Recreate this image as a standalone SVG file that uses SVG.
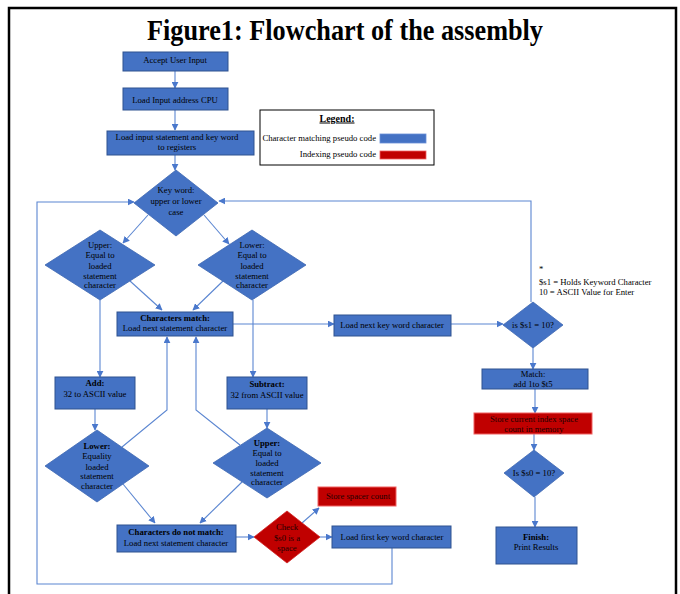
<svg xmlns="http://www.w3.org/2000/svg" width="680" height="594" viewBox="0 0 680 594">
<defs>
<style>
.t{font-family:"Liberation Serif","Times New Roman",serif;font-size:8.7px;fill:#000;text-anchor:middle}
.b{font-weight:bold}
.bl{fill:#4472C4;stroke:#2F528F;stroke-width:1}
.bd{fill:#4472C4;stroke:#3E67B1;stroke-width:0.8}
.rd{fill:#C00000;stroke:#F06060;stroke-width:1}
.c{fill:none;stroke:#5B86D1;stroke-width:1.1}
.a{marker-end:url(#arr)}
</style>
<marker id="arr" viewBox="0 0 10 10" refX="9" refY="5" markerWidth="7" markerHeight="7" markerUnits="userSpaceOnUse" orient="auto">
<path d="M0,0 L10,5 L0,10 z" fill="#4A78CC"/>
</marker>
</defs>
<rect x="0" y="0" width="680" height="594" fill="#fff"/>
<path d="M9,594 V8 H676 V594" fill="none" stroke="#000" stroke-width="2.5"/>
<text x="345" y="40" font-family="Liberation Serif,'Times New Roman',serif" font-size="29" font-weight="bold" text-anchor="middle" textLength="396" lengthAdjust="spacingAndGlyphs" fill="#000">Figure1: Flowchart of the assembly</text>

<g id="connectors">
<path class="c a" d="M175,71 V88"/>
<path class="c a" d="M175,110 V130"/>
<path class="c a" d="M175,155 V170"/>
<path class="c a" d="M148,215 L123,243"/>
<path class="c a" d="M204,215 L229,244"/>
<path class="c a" d="M130,281 L162,310"/>
<path class="c a" d="M223,281 L193,310"/>
<path class="c a" d="M100,300 V377"/>
<path class="c a" d="M253,300 V377"/>
<path class="c a" d="M233,324 H334"/>
<path class="c a" d="M451,324 H503"/>
<path class="c a" d="M531,302 V201 H219"/>
<path class="c a" d="M392,548 V584 H37 V202 H134"/>
<path class="c a" d="M533,348 V369"/>
<path class="c a" d="M535,389 V413"/>
<path class="c a" d="M534,434 V450"/>
<path class="c a" d="M535,497 V527"/>
<path class="c a" d="M95,409 V430"/>
<path class="c a" d="M267,409 V428"/>
<path class="c a" d="M122,447 L167,410 V337"/>
<path class="c a" d="M240,445 L196,410 V337"/>
<path class="c a" d="M123,484 L155,523"/>
<path class="c a" d="M242,482 L200,523"/>
<path class="c a" d="M236,537 H254"/>
<path class="c a" d="M320,537 H332"/>
<path class="c a" d="M302,523 L319,508"/>
</g>

<g id="accept">
<rect class="bl" x="123" y="52" width="105" height="19"/>
<text class="t" x="175" y="62.5">Accept User Input</text>
</g>
<g id="loadaddr">
<rect class="bl" x="123" y="88" width="105" height="22"/>
<text class="t" x="175" y="102.5">Load Input address CPU</text>
</g>
<g id="loadstmt">
<rect class="bl" x="107" y="131" width="147" height="24"/>
<text class="t" x="177" y="140">Load input statement and key word</text>
<text class="t" x="177" y="150">to registers</text>
</g>
<g id="legend">
<rect x="260" y="110" width="174" height="55" fill="#fff" stroke="#000" stroke-width="1"/>
<text class="t b" x="337" y="121.5" text-decoration="underline" style="font-size:10px">Legend:</text>
<text class="t" x="376" y="141" style="text-anchor:end">Character matching pseudo code</text>
<rect x="380" y="134" width="46" height="9" fill="#4472C4" stroke="#6A8FD8" stroke-width="0.8"/>
<text class="t" x="376" y="157" style="text-anchor:end">Indexing pseudo code</text>
<rect x="380" y="151" width="46" height="8" fill="#C00000" stroke="#F06060" stroke-width="0.8"/>
</g>
<g id="keyword">
<polygon class="bd" points="176,170 218,203 176,236 134,203"/>
<text class="t" x="176" y="193">Key word:</text>
<text class="t" x="176" y="204">upper or lower</text>
<text class="t" x="176" y="215">case</text>
</g>
<g id="upper1">
<polygon class="bd" points="100,230 155,265 100,300 45,265"/>
<text class="t" x="100" y="248">Upper:</text>
<text class="t" x="100" y="258">Equal to</text>
<text class="t" x="100" y="268.5">loaded</text>
<text class="t" x="100" y="278.5">statement</text>
<text class="t" x="100" y="288">character</text>
</g>
<g id="lower1">
<polygon class="bd" points="252,230 306,265 252,300 198,265"/>
<text class="t" x="252" y="248">Lower:</text>
<text class="t" x="252" y="258">Equal to</text>
<text class="t" x="252" y="268.5">loaded</text>
<text class="t" x="252" y="278.5">statement</text>
<text class="t" x="252" y="288">character</text>
</g>
<g id="match">
<rect class="bl" x="117" y="312" width="116" height="24"/>
<text class="t b" x="175" y="320.5">Characters match:</text>
<text class="t" x="175" y="331">Load next statement character</text>
</g>
<g id="nextkey">
<rect class="bl" x="334" y="315" width="117" height="21"/>
<text class="t" x="392" y="327.5">Load next key word character</text>
</g>
<g id="is10">
<polygon class="bd" points="533,302 563,325 533,348 503,325"/>
<text class="t" x="533" y="327.5">is $s1 = 10?</text>
</g>
<g id="note">
<text class="t" x="539" y="272" style="text-anchor:start">*</text>
<text class="t" x="539" y="284.5" style="text-anchor:start">$s1 = Holds Keyword Character</text>
<text class="t" x="539" y="294.5" style="text-anchor:start">10 = ASCII Value for Enter</text>
</g>
<g id="add">
<rect class="bl" x="55" y="377" width="80" height="32"/>
<text class="t b" x="95" y="385.5">Add:</text>
<text class="t" x="95" y="396.5">32 to ASCII value</text>
</g>
<g id="subtract">
<rect class="bl" x="227" y="377" width="80" height="32"/>
<text class="t b" x="267" y="387">Subtract:</text>
<text class="t" x="267" y="398">32 from ASCII value</text>
</g>
<g id="matchadd">
<rect class="bl" x="482" y="369" width="106" height="20"/>
<text class="t" x="533" y="376.5">Match:</text>
<text class="t" x="533" y="387">add 1to $t5</text>
</g>
<g id="storeidx">
<rect class="rd" x="474" y="413" width="118" height="21"/>
<text class="t" x="534" y="422" style="fill:#200">Store current index space</text>
<text class="t" x="534" y="432" style="fill:#200">count in memory</text>
</g>
<g id="is0">
<polygon class="bd" points="534,450 564,473 534,497 504,473"/>
<text class="t" x="534" y="476">Is $s0 = 10?</text>
</g>
<g id="finish">
<rect class="bl" x="496" y="527" width="81" height="37"/>
<text class="t b" x="536" y="540">Finish:</text>
<text class="t" x="536" y="550">Print Results</text>
</g>
<g id="lower2">
<polygon class="bd" points="97,430 149,466 97,502 45,466"/>
<text class="t b" x="97" y="449">Lower:</text>
<text class="t" x="97" y="459">Equality</text>
<text class="t" x="97" y="469.5">loaded</text>
<text class="t" x="97" y="479">statement</text>
<text class="t" x="97" y="489">character</text>
</g>
<g id="upper2">
<polygon class="bd" points="267,428 321,463 267,498 213,463"/>
<text class="t b" x="267" y="446">Upper:</text>
<text class="t" x="267" y="455.5">Equal to</text>
<text class="t" x="267" y="466">loaded</text>
<text class="t" x="267" y="475.5">statement</text>
<text class="t" x="267" y="485">character</text>
</g>
<g id="spacer">
<rect class="rd" x="318" y="487" width="78" height="19"/>
<text class="t" x="358" y="499" style="fill:#200">Store spacer count</text>
</g>
<g id="nomatch">
<rect class="bl" x="117" y="525" width="119" height="27"/>
<text class="t b" x="176" y="535">Characters do not match:</text>
<text class="t" x="176" y="546">Load next statement character</text>
</g>
<g id="check">
<polygon points="287,511 320,537 287,563 254,537" fill="#C00000" stroke="#D02020" stroke-width="0.8"/>
<text class="t" x="287" y="530" style="fill:#200">Check</text>
<text class="t" x="287" y="540.5" style="fill:#200">$s0 is a</text>
<text class="t" x="287" y="551" style="fill:#200">space</text>
</g>
<g id="firstkey">
<rect class="bl" x="332" y="526" width="119" height="22"/>
<text class="t" x="392" y="540">Load first key word character</text>
</g>
</svg>
